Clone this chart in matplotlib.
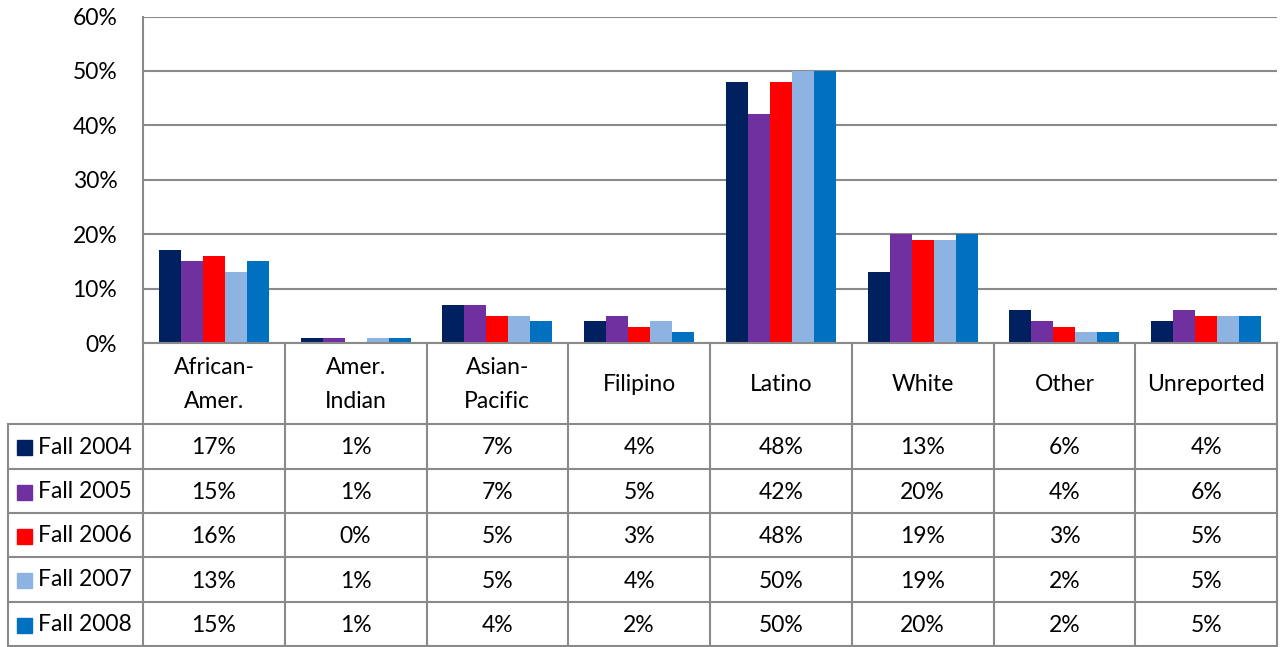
import matplotlib
matplotlib.use("Agg")
import matplotlib.pyplot as plt
import numpy as np

categories = ["African-\nAmer.", "Amer.\nIndian", "Asian-\nPacific", "Filipino", "Latino", "White", "Other", "Unreported"]
series_names = ["Fall 2004", "Fall 2005", "Fall 2006", "Fall 2007", "Fall 2008"]
fall_2004 = [17, 1, 7, 4, 48, 13, 6, 4]
fall_2005 = [15, 1, 7, 5, 42, 20, 4, 6]
fall_2006 = [16, 0, 5, 3, 48, 19, 3, 5]
fall_2007 = [13, 1, 5, 4, 50, 19, 2, 5]
fall_2008 = [15, 1, 4, 2, 50, 20, 2, 5]
series_values = [fall_2004, fall_2005, fall_2006, fall_2007, fall_2008]
colors = ["#002060", "#7030A0", "#FF0000", "#8DB3E2", "#0070C0"]
y_ticks = [0, 10, 20, 30, 40, 50, 60]

plt.rcParams['font.family'] = ['Lato', 'DejaVu Sans']
FS = 16.5
GRID = "#8a8a8a"

W, H = 1286, 647
fig = plt.figure(figsize=(W / 100, H / 100), dpi=100)

# pixel layout
x0, x1 = 143, 1277
y_top, y_axis = 16.5, 343
ax = fig.add_axes([x0 / W, (H - y_axis) / H, (x1 - x0) / W, (y_axis - y_top) / H])

n = len(categories)
k = len(series_names)
bw = 0.155
x = np.arange(n)
for i, (name, vals, c) in enumerate(zip(series_names, series_values, colors)):
    ax.bar(x + (i - (k - 1) / 2) * bw, vals, width=bw, color=c, label=name, zorder=3)

ax.set_xlim(-0.5, n - 0.5)
ax.set_ylim(0, 60)
ax.set_yticks(y_ticks)
ax.set_yticklabels([f"{t}%" for t in y_ticks], fontsize=FS)
ax.tick_params(axis='y', length=0, pad=18.5)
ax.set_xticks([])
ax.grid(axis='y', color=GRID, linewidth=1.5, zorder=0)
for s in ["top", "right", "bottom"]:
    ax.spines[s].set_visible(False)
ax.spines["left"].set_color(GRID)
ax.spines["left"].set_linewidth(1.5)

# overlay for the data table in pixel coordinates
ov = fig.add_axes([0, 0, 1, 1], zorder=5)
ov.set_xlim(0, W)
ov.set_ylim(H, 0)
ov.axis("off")

colw = (x1 - x0) / n
left_x = 8
rows_y = [424, 469, 513, 557, 602, 646]
lw = 1.5
# axis bottom / header top
ov.plot([x0, x1], [y_axis, y_axis], color=GRID, lw=lw)
for j in range(n + 1):
    xx = x0 + j * colw
    ov.plot([xx, xx], [y_axis, rows_y[-1]], color=GRID, lw=lw)
ov.plot([left_x, left_x], [rows_y[0], rows_y[-1]], color=GRID, lw=lw)
for yy in rows_y:
    ov.plot([left_x, x1], [yy, yy], color=GRID, lw=lw)

# header
for j, cat in enumerate(categories):
    cx = x0 + (j + 0.5) * colw
    ov.text(cx, (y_axis + rows_y[0]) / 2 + 1, cat, ha="center", va="center",
            fontsize=FS, linespacing=1.8)

# rows
for i, (name, vals, c) in enumerate(zip(series_names, series_values, colors)):
    cy = (rows_y[i] + rows_y[i + 1]) / 2 + 0.5
    ov.add_patch(plt.Rectangle((17, cy - 7), 15, 15, color=c))
    ov.text(38, cy, name, ha="left", va="center", fontsize=FS)
    for j, v in enumerate(vals):
        cx = x0 + (j + 0.5) * colw
        ov.text(cx, cy + 1, f"{v}%", ha="center", va="center", fontsize=FS)

fig.savefig("out.png", dpi=100)
